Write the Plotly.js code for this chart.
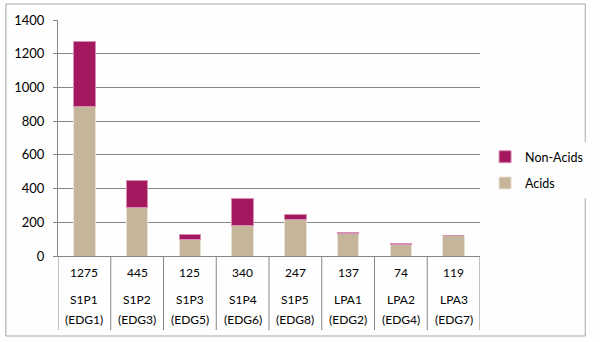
<!DOCTYPE html>
<html><head><meta charset="utf-8">
<script src="https://cdn.plot.ly/plotly-3.0.1.min.js"></script>
<style>body{margin:0;background:#fff}#c{width:600px;height:342px}</style>
</head><body><div id="c"></div>
<script>
const categories = ["S1P1", "S1P2", "S1P3", "S1P4", "S1P5", "LPA1", "LPA2", "LPA3"];
const subLabels = ["(EDG1)", "(EDG3)", "(EDG5)", "(EDG6)", "(EDG8)", "(EDG2)", "(EDG4)", "(EDG7)"];
const totals = [1275, 445, 125, 340, 247, 137, 74, 119];
const acids = [885, 285, 98, 178, 218, 135, 66, 119];
const nonAcids = totals.map((t, i) => t - acids[i]);

const font = "Lato, 'Open Sans', sans-serif";
const xs = categories.map((c, i) => i);

const traces = [
  {type: 'bar', name: 'Acids', legendgroup: 'a', legendrank: 2, x: xs, y: acids, marker: {color: '#c4b59b', line: {color: '#e9e2d3', width: 1}}},
  {type: 'bar', name: 'Non-Acids', legendgroup: 'n', legendrank: 1, x: xs, y: nonAcids, marker: {color: '#a3185f', line: {color: '#d98fb3', width: 1}}}
];

const shapes = [];
const annotations = [];
// outer chart frame
shapes.push({type: 'rect', xref: 'paper', yref: 'paper', x0: -0.1235, x1: 1.2494, y0: -0.339, y1: 1.0678,
  line: {color: '#a6a6a6', width: 1}});
// table vertical lines
for (let i = 0; i <= categories.length; i++) {
  shapes.push({type: 'line', xref: 'x', yref: 'paper', x0: i - 0.5, x1: i - 0.5, y0: 0, y1: -0.314,
    line: {color: '#868686', width: 1}});
}
categories.forEach((c, i) => {
  annotations.push({xref: 'x', yref: 'paper', x: i, y: -0.068, text: String(totals[i]), showarrow: false,
    font: {family: font, size: 12, color: '#000'}, yanchor: 'middle'});
  annotations.push({xref: 'x', yref: 'paper', x: i, y: -0.186, text: c, showarrow: false,
    font: {family: font, size: 12, color: '#000'}, yanchor: 'middle'});
  annotations.push({xref: 'x', yref: 'paper', x: i, y: -0.271, text: subLabels[i], showarrow: false,
    font: {family: font, size: 12, color: '#000'}, yanchor: 'middle'});
});

const layout = {
  width: 600, height: 342,
  margin: {l: 58, r: 113, t: 20, b: 86},
  paper_bgcolor: '#fdfefd', plot_bgcolor: '#fdfefd',
  barmode: 'stack', bargap: 0.59,
  showlegend: true,
  legend: {x: 1.012, y: 0.364, xanchor: 'left', yanchor: 'middle', traceorder: 'grouped',
    font: {family: font, size: 12.5, color: '#000'}, itemwidth: 30, tracegroupgap: 7},
  xaxis: {range: [-0.5, 7.5], showticklabels: false, showgrid: false, zeroline: false,
    showline: true, linecolor: '#868686', linewidth: 1, ticks: '', fixedrange: true},
  yaxis: {range: [0, 1400], dtick: 200, tickmode: 'linear', showgrid: true, gridcolor: '#868686', gridwidth: 1,
    zeroline: false, showline: true, linecolor: '#868686', linewidth: 1, ticks: 'outside', ticklen: 4,
    tickcolor: '#868686', ticklabelstandoff: 6, tickfont: {family: font, size: 13, color: '#000'}},
  shapes: shapes,
  annotations: annotations,
  font: {family: font}
};

Plotly.newPlot('c', traces, layout, {displayModeBar: false, staticPlot: true});
</script></body></html>
